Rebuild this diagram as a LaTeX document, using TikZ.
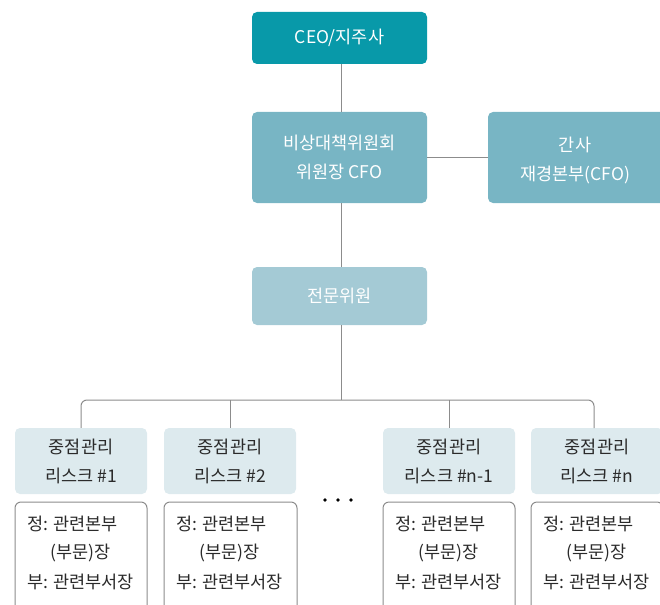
\documentclass[tikz,border=0pt]{standalone}
\usepackage{fontspec}
\setmainfont{Noto Sans CJK KR}
\definecolor{ceo}{HTML}{0899A9}
\definecolor{mid}{HTML}{78B5C4}
\definecolor{spec}{HTML}{A4CAD5}
\definecolor{hdr}{HTML}{DDEAEE}
\definecolor{ln}{HTML}{8C8C8C}
\definecolor{txt}{HTML}{2A2A2A}
\begin{document}
\begin{tikzpicture}[x=1pt,y=-1pt,
  topbox/.style={rounded corners=5pt,inner sep=0pt,text=white,align=center,font=\fontsize{17.5}{29}\selectfont},
  hdrbox/.style={fill=hdr,rounded corners=5pt,inner sep=0pt,text=txt,align=center,minimum width=132pt,minimum height=66pt,font=\fontsize{17.5}{29}\selectfont},
  conn/.style={draw=ln,line width=1pt},
  dtl/.style={draw=ln,line width=1pt,rounded corners=6pt},
  dtxt/.style={text=txt,anchor=west,inner sep=0pt,font=\fontsize{17.5}{20}\selectfont}]
\useasboundingbox (0,0) rectangle (660,604);
\clip (0,0) rectangle (660,604);
% top boxes
\node[topbox,fill=ceo,minimum width=175pt,minimum height=52pt] (ceo) at (339.5,38) {CEO/지주사};
\node[topbox,fill=mid,minimum width=175pt,minimum height=91pt] (com) at (339.5,157.5) {비상대책위원회\\위원장 CFO};
\node[topbox,fill=mid,minimum width=184pt,minimum height=91pt] (sec) at (580,157.5) {};
\node[text=white,align=center,font=\fontsize{17.5}{29}\selectfont] (sect) at (575,160) {간사\\재경본부(CFO)};
\node[topbox,fill=spec,minimum width=175pt,minimum height=58pt] (spc) at (339.5,296) {전문위원};
% connectors
\coordinate (bus) at (341,400);
\draw[conn] (341,64) -- (341,112);
\draw[conn] (341,203) -- (341,267);
\draw[conn] (com.east) -- (sec.west);
\draw[conn] (341,325) -- (bus);
% header boxes
\node[hdrbox] (h1) at (81,461) {중점관리\\리스크 \#1};
\node[hdrbox] (h2) at (230,461) {중점관리\\리스크 \#2};
\node[hdrbox] (h3) at (449,461) {중점관리\\리스크 \#n-1};
\node[hdrbox] (h4) at (597,461) {중점관리\\리스크 \#n};
\draw[conn,rounded corners=6pt] (h1.north) -- (81,400) -- (594,400) -- (594,428);
\draw[conn] (230,400) -- (h2.north);
\draw[conn] (449,400) -- (h3.north);
% detail boxes
\foreach \n/\xl/\xr in {1/15/147,2/164/297,3/383/515,4/531/663}{
  \draw[dtl] (\xl,610) -- (\xl,502) -- (\xr,502) -- (\xr,610);
  \node[dtxt] (a\n) at (\xl+12,524) {정: 관련본부};
  \node[dtxt] (b\n) at (\xl+35,553) {(부문)장};
  \node[dtxt] (c\n) at (\xl+12,582) {부: 관련부서장};
}
% dots
\foreach \i in {0,1,2} \fill[black] (325+13*\i,500) circle (1.8pt);
\end{tikzpicture}
\end{document}
